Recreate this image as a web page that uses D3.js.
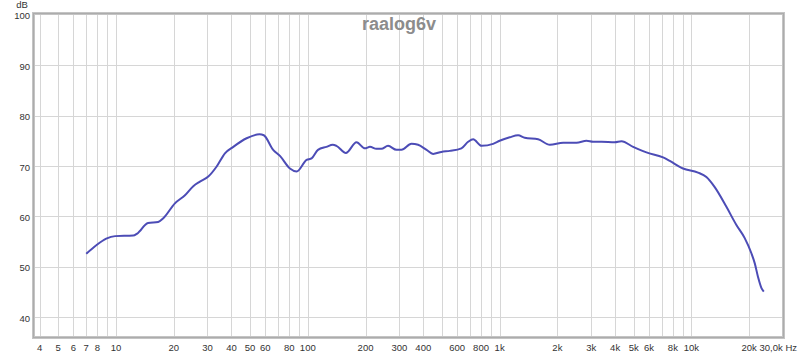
<!DOCTYPE html>
<html lang="en">
<head>
    <meta charset="UTF-8">
    <title>raalog6v</title>
    <script src="https://d3js.org/d3.v7.min.js"></script>
    <style>
        body {
            margin: 0;
            background-color: #ffffff;
            font-family: 'Liberation Sans', Arial, sans-serif;
        }
        svg {
            display: block;
        }
        .grid line {
            stroke: #d6d6d6;
            stroke-width: 1;
        }
        .tick-label {
            font-size: 9.5px;
            fill: #333;
        }
    </style>
</head>
<body>
    <script>
        const freqs = [7.0, 7.9, 8.9, 9.9, 12.3, 12.9, 14.7, 16.6, 17.6, 20.3, 22.9, 25.3, 27.4, 30.3, 33.5,
            37, 40.9, 48, 56, 59, 66, 71.6, 80.7, 87.5, 98.6, 104.7, 113, 125, 135, 141, 158, 179.5, 198.6,
            211, 228, 242, 262, 290, 308, 347, 376, 416, 450, 497, 550, 632, 685, 728, 805, 925, 1000,
            1130, 1248, 1352, 1588, 1828, 2144, 2518, 2838, 3070, 3400, 3980, 4315, 4965, 5825, 7110,
            7710, 9040, 10820, 11960, 13220, 15210, 17150, 18950, 20530, 21380, 22230, 23170, 23820];
        const levels = [52.6, 54.3, 55.6, 56.1, 56.2, 56.6, 58.7, 58.9, 59.6, 62.6, 64.2, 66.0, 66.9, 67.9, 69.9,
            72.5, 73.8, 75.5, 76.3, 76.1, 73.2, 72.0, 69.5, 68.9, 71.2, 71.5, 73.2, 73.8, 74.2, 74.0, 72.6, 74.7, 73.5,
            73.8, 73.4, 73.4, 74.0, 73.2, 73.2, 74.4, 74.2, 73.2, 72.4, 72.8, 73.0, 73.5, 74.8, 75.3, 74.0, 74.4, 75.0,
            75.7, 76.1, 75.6, 75.3, 74.2, 74.6, 74.6, 75.0, 74.8, 74.8, 74.7, 74.9, 73.8, 72.7, 71.7,
            71.0, 69.5, 68.7, 67.8, 65.8, 61.9, 58.3, 55.7, 52.7, 50.7, 48.0, 45.8, 45.1];

        const gridFreqs = [4, 5, 6, 7, 8, 9, 10, 20, 30, 40, 50, 60, 70, 80, 90, 100, 200, 300, 400, 500,
            600, 700, 800, 900, 1000, 2000, 3000, 4000, 5000, 6000, 7000, 8000, 9000, 10000, 20000];
        const labelFreqs = [4, 5, 6, 7, 8, 10, 20, 30, 40, 50, 60, 80, 100, 200, 300, 400, 600, 800,
            1000, 2000, 3000, 4000, 5000, 6000, 8000, 10000, 20000];
        const labelText = ["4", "5", "6", "7", "8", "10", "20", "30", "40", "50", "60", "80", "100", "200", "300",
            "400", "600", "800", "1k", "2k", "3k", "4k", "5k", "6k", "8k", "10k", "20k"];
        const dbTicks = [40, 50, 60, 70, 80, 90, 100];

        const width = 800, height = 356;
        const plotLeft = 34, plotRight = 783, plotTop = 14, plotBottom = 337;

        const svg = d3.select("body").append("svg")
            .attr("width", width)
            .attr("height", height);

        const x = d3.scaleLog().domain([3.74, 30000]).range([plotLeft, plotRight]);
        const y = d3.scaleLinear().domain([36.1, 100]).range([plotBottom, 14.7]);

        const grid = svg.append("g").attr("class", "grid");
        grid.selectAll(".v")
            .data(gridFreqs)
            .enter().append("line")
            .attr("x1", d => Math.round(x(d)) + 0.5)
            .attr("x2", d => Math.round(x(d)) + 0.5)
            .attr("y1", plotTop)
            .attr("y2", plotBottom);
        grid.selectAll(".h")
            .data(dbTicks.filter(d => d < 100))
            .enter().append("line")
            .attr("x1", plotLeft)
            .attr("x2", plotRight)
            .attr("y1", d => Math.round(y(d)) + 0.5)
            .attr("y2", d => Math.round(y(d)) + 0.5);

        // title sits over the grid
        svg.append("text")
            .attr("x", 399)
            .attr("y", 30)
            .attr("text-anchor", "middle")
            .attr("font-size", "18px")
            .attr("font-weight", "bold")
            .attr("fill", "#8c8c8c")
            .text("raalog6v");

        const line = d3.line()
            .x((d, i) => x(freqs[i]))
            .y(d => y(d))
            .curve(d3.curveMonotoneX);

        svg.append("path")
            .datum(levels)
            .attr("fill", "none")
            .attr("stroke", "#4c4cb6")
            .attr("stroke-width", 2)
            .attr("stroke-linejoin", "round")
            .attr("d", line);

        // frame
        svg.append("rect")
            .attr("x", plotLeft - 0.5)
            .attr("y", plotTop - 0.5)
            .attr("width", plotRight - plotLeft + 1)
            .attr("height", plotBottom - plotTop + 1)
            .attr("fill", "none")
            .attr("stroke", "#c4c4c4")
            .attr("stroke-width", 3);
        svg.append("rect")
            .attr("x", plotLeft - 0.5)
            .attr("y", plotTop - 0.5)
            .attr("width", plotRight - plotLeft + 1)
            .attr("height", plotBottom - plotTop + 1)
            .attr("fill", "none")
            .attr("stroke", "#acacac")
            .attr("stroke-width", 1);

        svg.selectAll(".xl")
            .data(labelFreqs)
            .enter().append("text")
            .attr("class", "tick-label")
            .attr("x", d => x(d))
            .attr("y", 351)
            .attr("text-anchor", "middle")
            .text((d, i) => labelText[i]);

        svg.append("text")
            .attr("class", "tick-label")
            .attr("x", 797)
            .attr("y", 351)
            .attr("text-anchor", "end")
            .text("30,0k Hz");

        svg.selectAll(".yl")
            .data(dbTicks)
            .enter().append("text")
            .attr("class", "tick-label")
            .attr("x", 30)
            .attr("y", d => y(d) + 4.5)
            .attr("text-anchor", "end")
            .text(d => d);

        svg.append("text")
            .attr("class", "tick-label")
            .attr("x", 22)
            .attr("y", 7.5)
            .attr("text-anchor", "middle")
            .text("dB");
    </script>
</body>
</html>
